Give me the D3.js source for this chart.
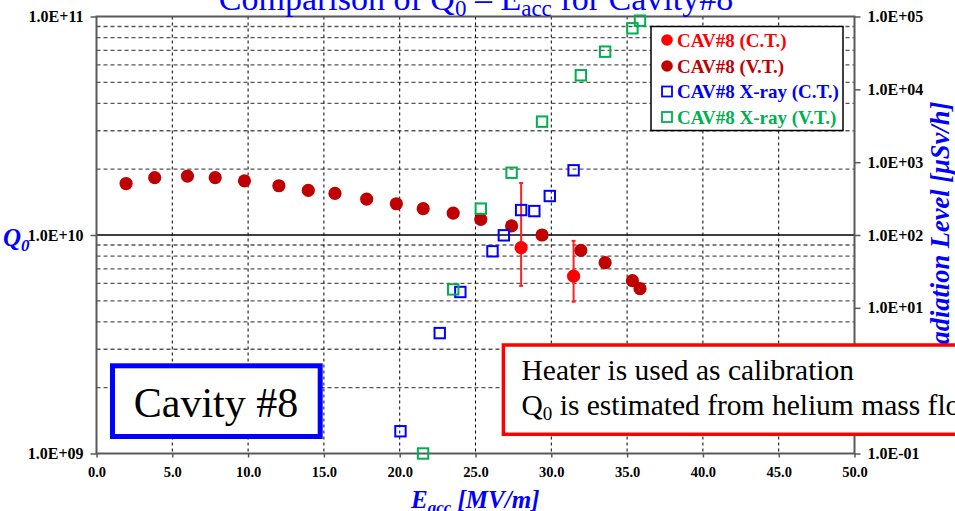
<!DOCTYPE html>
<html>
<head>
<meta charset="utf-8">
<script src="https://cdn.jsdelivr.net/npm/d3@7"></script>
<style>
  html, body { margin: 0; padding: 0; background: #fff; }
  svg { display: block; }
  text { font-family: "Liberation Serif", "Times New Roman", serif; }
</style>
</head>
<body>
<svg id="chart" width="955" height="511"></svg>
<script>
// Accelerating field Eacc [MV/m]
const eaccVT = [1.95, 3.84, 6.0, 7.83, 9.76, 12.03, 13.97, 15.73, 17.82, 19.78, 21.55, 23.53, 25.35, 27.38, 29.39, 31.95, 33.55, 35.35, 35.85];
// Q0 measured in the vertical test
const q0VT = [1.72e10, 1.83e10, 1.86e10, 1.83e10, 1.77e10, 1.68e10, 1.60e10, 1.55e10, 1.46e10, 1.39e10, 1.32e10, 1.26e10, 1.18e10, 1.10e10, 1.00e10, 8.5e9, 7.47e9, 6.18e9, 5.68e9];

// Cryomodule test points with error range
const eaccCT = [28.01, 31.47];
const q0CT = [8.75e9, 6.48e9];
const q0CTHigh = [1.73e10, 9.4e9];
const q0CTLow = [5.85e9, 4.95e9];

// X-ray radiation level [uSv/h]
const eaccXrayCT = [20.05, 22.64, 24.0, 26.12, 26.87, 28.01, 28.88, 29.9, 31.47];
const xrayCT = [0.202, 4.5, 16.5, 59.7, 99, 220, 213, 343, 773];
const eaccXrayVT = [21.54, 23.53, 25.35, 27.38, 29.39, 31.95, 33.55, 35.35, 35.85];
const xrayVT = [0.1, 17.9, 230, 716, 3600, 15600, 32900, 68900, 87600];

// Axis ticks
const xTicks = [0, 5, 10, 15, 20, 25, 30, 35, 40, 45, 50];
const q0Ticks = [1e9, 1e10, 1e11];
const radTicks = [1e-1, 1e0, 1e1, 1e2, 1e3, 1e4, 1e5];

const legendLabels = ["CAV#8 (C.T.)", "CAV#8 (V.T.)", "CAV#8 X-ray (C.T.)", "CAV#8 X-ray (V.T.)"];
const colors = { ct: "#ff0000", vt: "#c00000", xct: "#0000ff", xvt: "#00b050" };

const svg = d3.select("#chart");
const L = 96.5, R = 854.5, T = 16.5, B = 453.5;

const x = d3.scaleLinear().domain([0, 50]).range([L, R]);
const yQ = d3.scaleLog().domain([1e9, 1e11]).range([B, T]);
const yR = d3.scaleLog().domain([1e-1, 1e5]).range([B, T]);

function sciFormat(v) {
  const e = Math.round(Math.log10(v));
  const m = v / Math.pow(10, e);
  const sign = e < 0 ? "-" : "+";
  return m.toFixed(1) + "E" + sign + String(Math.abs(e)).padStart(2, "0");
}

svg.append("rect").attr("width", 955).attr("height", 511).attr("fill", "#fff");

// Horizontal minor gridlines of the Q0 axis
const minorQ = [];
[1e9, 1e10].forEach(d => { for (let k = 2; k <= 9; k++) minorQ.push(d * k); });
svg.append("g").selectAll("line").data(minorQ).join("line")
  .attr("x1", L).attr("x2", R)
  .attr("y1", d => yQ(d)).attr("y2", d => yQ(d))
  .attr("stroke", "#555").attr("stroke-width", 1.3).attr("stroke-dasharray", "4,3");

// Vertical gridlines
svg.append("g").selectAll("line").data(xTicks.slice(1, -1)).join("line")
  .attr("x1", d => x(d)).attr("x2", d => x(d))
  .attr("y1", T).attr("y2", B)
  .attr("stroke", "#000").attr("stroke-width", 1).attr("stroke-dasharray", "3,3");

// Major line at 1E+10
svg.append("line").attr("x1", L).attr("x2", R)
  .attr("y1", yQ(1e10)).attr("y2", yQ(1e10))
  .attr("stroke", "#000").attr("stroke-width", 1.6);

// Axes
const axisColor = "#595959";
function styleAxis(g, size) {
  g.select(".domain").remove();
  g.selectAll(".tick line").attr("stroke", axisColor).attr("stroke-width", 1.5);
  g.selectAll(".tick text").attr("fill", "#000").attr("font-weight", "bold")
    .attr("font-size", size).attr("font-family", "'Liberation Serif', 'Times New Roman', serif");
}
svg.append("g").attr("transform", `translate(${L},0)`)
  .call(d3.axisLeft(yQ).tickValues(q0Ticks).tickFormat(sciFormat).tickSize(6).tickPadding(7))
  .call(g => styleAxis(g, 16));
svg.append("g").attr("transform", `translate(${R},0)`)
  .call(d3.axisRight(yR).tickValues(radTicks).tickFormat(sciFormat).tickSize(6).tickPadding(7))
  .call(g => styleAxis(g, 16));
svg.append("g").attr("transform", `translate(0,${B})`)
  .call(d3.axisBottom(x).tickValues(xTicks).tickFormat(d3.format(".1f")).tickSize(4).tickPadding(9))
  .call(g => styleAxis(g, 14.5));

// Plot frame
svg.append("rect").attr("x", L).attr("y", T).attr("width", R - L).attr("height", B - T)
  .attr("fill", "none").attr("stroke", axisColor).attr("stroke-width", 2);

// Q0 vertical test
svg.append("g").selectAll("circle").data(eaccVT).join("circle")
  .attr("cx", d => x(d)).attr("cy", (d, i) => yQ(q0VT[i])).attr("r", 6.6)
  .attr("fill", colors.vt);

// Q0 cryomodule test with error bars
const eb = svg.append("g").attr("stroke", "#ff2020").attr("stroke-width", 2);
eaccCT.forEach((e, i) => {
  eb.append("line").attr("x1", x(e)).attr("x2", x(e)).attr("y1", yQ(q0CTHigh[i])).attr("y2", yQ(q0CTLow[i]));
  eb.append("line").attr("x1", x(e) - 2).attr("x2", x(e) + 2).attr("y1", yQ(q0CTHigh[i])).attr("y2", yQ(q0CTHigh[i]));
  eb.append("line").attr("x1", x(e) - 2).attr("x2", x(e) + 2).attr("y1", yQ(q0CTLow[i])).attr("y2", yQ(q0CTLow[i]));
});
svg.append("g").selectAll("circle").data(eaccCT).join("circle")
  .attr("cx", d => x(d)).attr("cy", (d, i) => yQ(q0CT[i])).attr("r", 6.6)
  .attr("fill", colors.ct);

// Radiation levels
function squares(eArr, vArr, color) {
  svg.append("g").selectAll("rect").data(eArr).join("rect")
    .attr("x", d => x(d) - 5.2).attr("y", (d, i) => yR(vArr[i]) - 5.2)
    .attr("width", 10.4).attr("height", 10.4)
    .attr("fill", "none").attr("stroke", color).attr("stroke-width", 2);
}
squares(eaccXrayCT, xrayCT, colors.xct);
squares(eaccXrayVT, xrayVT, colors.xvt);

// Legend
const lg = svg.append("g");
lg.append("rect").attr("x", 651).attr("y", 26.5).attr("width", 192).attr("height", 104)
  .attr("fill", "#fff").attr("stroke", "#000").attr("stroke-width", 1.5);
const legendColors = [colors.ct, colors.vt, colors.xct, colors.xvt];
const legendY = [40, 66, 91.5, 117];
legendLabels.forEach((lab, i) => {
  const cy = legendY[i];
  if (i < 2) {
    lg.append("circle").attr("cx", 667).attr("cy", cy).attr("r", 5.8).attr("fill", legendColors[i]);
  } else {
    lg.append("rect").attr("x", 662).attr("y", cy - 5).attr("width", 10).attr("height", 10)
      .attr("fill", "none").attr("stroke", legendColors[i]).attr("stroke-width", 1.8);
  }
  lg.append("text").attr("x", 677).attr("y", cy + 6.5).attr("font-size", 19)
    .attr("font-weight", "bold").attr("fill", legendColors[i]).text(lab);
});

// Axis titles
const blue = "#0000ff";
svg.append("text").attr("transform", "translate(949,232) rotate(-90)")
  .attr("text-anchor", "middle").attr("font-size", 26.5).attr("font-weight", "bold")
  .attr("font-style", "italic").attr("fill", blue).text("Radiation Level [\u03bcSv/h]");

const qLab = svg.append("text").attr("x", 3).attr("y", 246).attr("font-size", 25)
  .attr("font-weight", "bold").attr("font-style", "italic").attr("fill", blue);
qLab.append("tspan").text("Q");
qLab.append("tspan").attr("font-size", 17).attr("dy", 5).text("0");

const eLab = svg.append("text").attr("x", 411).attr("y", 508).attr("font-size", 25)
  .attr("font-weight", "bold").attr("font-style", "italic").attr("fill", blue);
eLab.append("tspan").text("E");
eLab.append("tspan").attr("font-size", 17).attr("dy", 5).text("acc");
eLab.append("tspan").attr("dy", -5).text(" [MV/m]");

// Title
const title = svg.append("text").attr("x", 476).attr("y", 10).attr("text-anchor", "middle")
  .attr("font-size", 34).attr("fill", blue);
title.append("tspan").text("Comparison of Q");
title.append("tspan").attr("font-size", 23).attr("dy", 6).text("0");
title.append("tspan").attr("dy", -6).text(" \u2013 E");
title.append("tspan").attr("font-size", 23).attr("dy", 6).text("acc");
title.append("tspan").attr("dy", -6).text(" for Cavity#8");

// Cavity label box
svg.append("rect").attr("x", 112.5).attr("y", 365.8).attr("width", 207.7).attr("height", 70.7)
  .attr("fill", "#fff").attr("stroke", blue).attr("stroke-width", 5);
svg.append("text").attr("x", 216).attr("y", 417).attr("text-anchor", "middle")
  .attr("font-size", 42).attr("fill", "#000").text("Cavity #8");

// Measurement note box
svg.append("rect").attr("x", 503.4).attr("y", 345).attr("width", 520).attr("height", 89.3)
  .attr("fill", "#fff").attr("stroke", "#ff0000").attr("stroke-width", 3.5);
svg.append("text").attr("x", 521.5).attr("y", 380).attr("font-size", 29.5).attr("fill", "#000")
  .text("Heater is used as calibration");
const note = svg.append("text").attr("x", 521.5).attr("y", 415).attr("font-size", 29.5).attr("fill", "#000");
note.append("tspan").text("Q");
note.append("tspan").attr("font-size", 19).attr("dy", 5).text("0");
note.append("tspan").attr("dy", -5).text(" is estimated from helium mass flow");
</script>
</body>
</html>
